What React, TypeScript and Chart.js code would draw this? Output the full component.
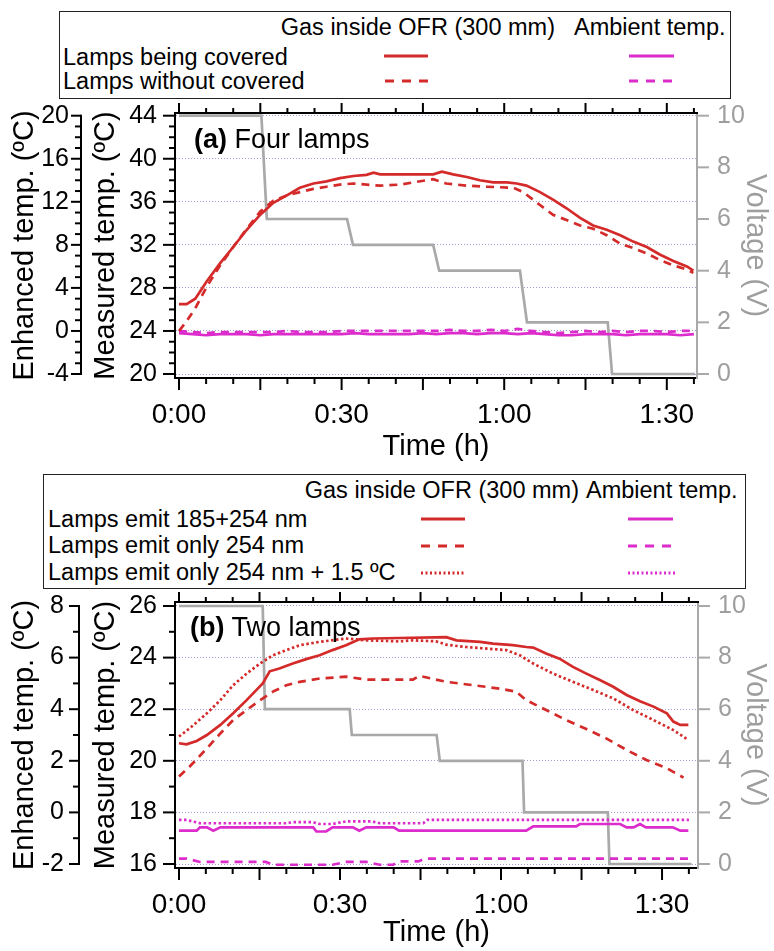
import React, { useEffect, useRef } from 'react';
import { Chart, registerables } from 'chart.js';

Chart.register(...registerables);

const FONT = "'Liberation Sans', Arial, Helvetica, sans-serif";
const RED = '#d42a2a';
const MAGENTA = '#dc2ccc';
const GRAY = '#a9a9a9';
const GRAY_TEXT = '#9e9e9e';
const GRID = '#9d9dd6';
const DASH = [8, 6];
const DOT = [2.5, 2.5];

// ---------- shared ticks ----------
const timeTickValues = [0, 30, 60, 90];
const timeTickLabels = ['0:00', '0:30', '1:00', '1:30'];
const voltageTicks = [0, 2, 4, 6, 8, 10];

// ---------- Panel (a) Four lamps ----------
const measuredTicksA = [20, 24, 28, 32, 36, 40, 44];
const enhancedTicksA = [-4, 0, 4, 8, 12, 16, 20];

const timeGasCoveredA = [0, 1.4, 3, 5.1, 7.6, 10, 12.5, 15, 17.4, 19.9, 22.3, 24.8, 27.2, 29.7, 32.2, 34.6, 35.9, 37.1, 40.8, 46.9, 48.5, 50.6, 53.1, 55.5, 58, 60.5, 62.3, 64.1, 66.6, 69, 71.5, 74, 76.4, 78.9, 81.4, 83.8, 86.3, 88.7, 91.2, 93.7, 94.9];
const gasCoveredA = [26.5, 26.5, 27.0, 28.6, 30.3, 31.8, 33.4, 34.8, 35.9, 36.6, 37.3, 37.7, 37.9, 38.2, 38.4, 38.5, 38.7, 38.55, 38.55, 38.55, 38.8, 38.55, 38.3, 38.0, 37.8, 37.8, 37.7, 37.5, 36.9, 36.2, 35.4, 34.5, 33.8, 33.4, 32.9, 32.3, 31.8, 31.1, 30.5, 30.0, 29.6];

const timeGasUncoveredA = [0, 1.4, 3, 5.1, 7.6, 10, 12.5, 15, 17.4, 19.9, 22.3, 24.8, 27.2, 29.7, 32.2, 34.6, 37.1, 40.8, 43.2, 46.9, 49.3, 53.1, 56.8, 61.7, 63.5, 66.6, 69, 71.5, 74, 76.4, 78.9, 81.4, 83.8, 86.3, 88.7, 91.2, 93.7, 94.9];
const gasUncoveredA = [24.0, 24.9, 26.1, 28.1, 30.1, 31.8, 33.5, 35.1, 36.1, 36.6, 36.9, 37.2, 37.4, 37.6, 37.7, 37.6, 37.5, 37.6, 37.8, 38.1, 37.7, 37.5, 37.4, 37.3, 36.9, 35.7, 34.8, 34.3, 33.8, 33.5, 32.9, 32.1, 31.7, 31.2, 30.6, 30.1, 29.7, 29.4];

const timeAmbientA = [0, 2.5, 5, 7.5, 10, 12.5, 15, 17.5, 20, 22.5, 25, 27.5, 30, 32.5, 35, 37.5, 40, 42.5, 45, 47.5, 50, 52.5, 55, 57.5, 60, 62.5, 65, 67.5, 70, 72.5, 75, 77.5, 80, 82.5, 85, 87.5, 90, 92.5, 95];
const ambientCoveredA = [23.8, 23.7, 23.6, 23.7, 23.7, 23.7, 23.6, 23.7, 23.7, 23.7, 23.7, 23.7, 23.7, 23.8, 23.7, 23.7, 23.7, 23.7, 23.8, 23.7, 23.8, 23.8, 23.7, 23.8, 23.8, 23.7, 23.8, 23.7, 23.6, 23.6, 23.7, 23.7, 23.7, 23.6, 23.7, 23.7, 23.7, 23.6, 23.7];
const ambientUncoveredA = [24.0, 23.9, 23.8, 23.9, 23.9, 23.9, 23.9, 23.9, 24.0, 23.9, 23.9, 23.9, 24.0, 24.0, 24.0, 24.0, 24.0, 24.0, 24.0, 24.0, 24.1, 24.0, 24.0, 24.1, 24.0, 24.2, 24.0, 23.9, 23.8, 23.9, 24.0, 23.9, 24.0, 23.9, 24.0, 24.0, 23.9, 24.0, 24.0];

const timeVoltageA = [0, 15.2, 16.2, 31.0, 32.1, 46.9, 48.0, 62.9, 64.2, 79.1, 79.9, 95.2];
const voltageA = [10, 10, 6, 6, 5, 5, 4, 4, 2, 2, 0, 0];

// ---------- Panel (b) Two lamps ----------
const measuredTicksB = [16, 18, 20, 22, 24, 26];
const enhancedTicksB = [-2, 0, 2, 4, 6, 8];

const timeGas185B = [0, 1.4, 3.3, 5.2, 7.7, 10.1, 12.6, 14.4, 15.6, 16.9, 18.7, 21.2, 23.7, 26.2, 28.6, 31.1, 33.6, 36.1, 41.1, 49.8, 51.7, 56.1, 58.5, 62.2, 64.7, 66, 68.4, 70.9, 73.4, 75.9, 78.4, 80.9, 83.4, 85.9, 88.4, 90.9, 92.1, 93.4, 94.9];
const gas185B = [20.68, 20.64, 20.77, 21.0, 21.39, 21.84, 22.35, 22.74, 23.0, 23.47, 23.58, 23.77, 23.94, 24.09, 24.29, 24.48, 24.71, 24.74, 24.76, 24.79, 24.67, 24.61, 24.54, 24.48, 24.41, 24.39, 24.16, 23.96, 23.64, 23.38, 23.13, 22.87, 22.55, 22.31, 22.1, 21.84, 21.52, 21.39, 21.39];

const timeGas254B = [0, 2, 5.2, 7.7, 10.1, 12.6, 15.1, 17.5, 20, 22.5, 26.2, 31.1, 34.9, 41.1, 43.6, 44.8, 49.8, 54.8, 59.7, 62.8, 64.7, 68.4, 72.1, 75.9, 79.6, 83.4, 87.1, 90.9, 94];
const gas254B = [19.39, 19.78, 20.48, 21.06, 21.58, 21.97, 22.35, 22.68, 22.93, 23.06, 23.19, 23.26, 23.15, 23.15, 23.15, 23.29, 23.06, 22.93, 22.8, 22.68, 22.35, 21.97, 21.58, 21.23, 20.87, 20.42, 20.03, 19.71, 19.35];

const timeGas254PlusB = [0, 2, 5.2, 7.7, 10.1, 12.6, 15.1, 17.5, 20, 22.5, 26.2, 31.1, 34.9, 41.1, 43.6, 47.9, 49.8, 53.5, 57.3, 61, 63.5, 66, 69.7, 73.4, 77.2, 80.9, 84.6, 88.4, 92.1, 94.9];
const gas254PlusB = [20.94, 21.26, 21.84, 22.35, 22.93, 23.38, 23.77, 24.09, 24.29, 24.48, 24.61, 24.74, 24.67, 24.63, 24.67, 24.63, 24.5, 24.41, 24.35, 24.29, 24.09, 23.77, 23.38, 23.06, 22.74, 22.42, 21.97, 21.58, 21.19, 20.81];

const timeAmbient185B = [0, 3.3, 3.9, 5.2, 6.4, 7.7, 25, 25.6, 27.4, 28.6, 32.4, 33.6, 34.9, 40, 41, 64.7, 66, 74, 74.7, 82.2, 83.4, 84.7, 85.9, 87, 92, 93.4, 94.9];
const ambient185B = [17.29, 17.29, 17.42, 17.42, 17.29, 17.42, 17.42, 17.26, 17.26, 17.42, 17.42, 17.29, 17.42, 17.42, 17.29, 17.29, 17.46, 17.46, 17.55, 17.55, 17.42, 17.42, 17.55, 17.42, 17.42, 17.29, 17.29];

const timeAmbient254B = [0, 1.4, 3.9, 16.2, 17.5, 28.6, 31.1, 34.9, 37.4, 39.9, 41, 44.6, 45.8, 95];
const ambient254B = [16.21, 16.21, 16.08, 16.08, 15.97, 15.97, 16.08, 16.08, 15.97, 15.97, 16.1, 16.1, 16.21, 16.21];

const timeAmbient254PlusB = [0, 1.4, 3.9, 19.9, 21.2, 24.9, 26.2, 28.6, 31.1, 36, 37.4, 45.5, 46.3, 95];
const ambient254PlusB = [17.71, 17.71, 17.58, 17.58, 17.62, 17.62, 17.55, 17.55, 17.65, 17.65, 17.58, 17.58, 17.71, 17.71];

const timeVoltageB = [0, 15.6, 16.0, 31.8, 32.2, 48.0, 48.6, 64.0, 64.3, 79.9, 80.2, 95.5];
const voltageB = [10, 10, 6, 6, 5, 5, 4, 4, 2, 2, 0, 0];

// ---------- legend texts ----------
const legendColumns = ['Gas inside OFR (300 mm)', 'Ambient temp.'];
const legendRowsA = ['Lamps being covered', 'Lamps without covered'];
const legendRowsB = ['Lamps emit 185+254 nm', 'Lamps emit only 254 nm', 'Lamps emit only 254 nm + 1.5 ºC'];
const panelLabelA = ['(a)', ' Four lamps'];
const panelLabelB = ['(b)', ' Two lamps'];

const pts = (t: number[], v: number[]) => t.map((x, i) => ({ x, y: v[i] }));

const axisDecor = {
  id: 'axisDecor',
  afterDraw(chart: any, _a: any, o: any) {
    const { ctx, chartArea: ca, scales } = chart;
    const sx = scales.x, sm = scales.y, se = scales.y2, sv = scales.yv;
    const seg = (x1: number, y1: number, x2: number, y2: number, c = '#000', w = 2) => {
      ctx.beginPath();
      ctx.strokeStyle = c;
      ctx.lineWidth = w;
      ctx.moveTo(x1, y1);
      ctx.lineTo(x2, y2);
      ctx.stroke();
    };
    ctx.save();
    ctx.setLineDash([]);
    ctx.lineCap = 'butt';
    seg(ca.left - 1, ca.top, ca.right + 1, ca.top);
    for (let t = 0; t <= o.xLast + 1e-9; t += o.xStep) {
      const px = sx.getPixelForValue(t);
      const major = Math.abs(t % o.xMajorStep) < 1e-9;
      seg(px, ca.bottom, px, ca.bottom + (major ? 12 : 6));
      seg(px, ca.top, px, ca.top - (major ? 10 : 5));
    }
    const mT: number[] = o.measuredTicks;
    for (let v = mT[0]; v <= mT[mT.length - 1] + 1e-9; v += 1) {
      const py = sm.getPixelForValue(v);
      const major = mT.includes(v);
      seg(ca.left - (major ? 12 : 6), py, ca.left, py);
    }
    const eT: number[] = o.enhancedTicks;
    const ex = se.right - 1;
    seg(ex, se.getPixelForValue(eT[eT.length - 1]) - 1, ex, se.getPixelForValue(eT[0]) + 1);
    for (let v = eT[0]; v <= eT[eT.length - 1] + 1e-9; v += 1) {
      const py = se.getPixelForValue(v);
      const major = eT.includes(v);
      seg(ex - (major ? 10 : 6), py, ex, py);
    }
    for (const v of o.voltageTicks) {
      const py = sv.getPixelForValue(v);
      seg(ca.right, py, ca.right + 12, py, GRAY);
    }
    ctx.restore();
  },
};

const zeroPad = (s: any) => {
  s.paddingLeft = 0;
  s.paddingRight = 0;
  s.paddingTop = 0;
  s.paddingBottom = 0;
};

type Spec = {
  xMin: number; xMax: number; mMin: number; mMax: number;
  enhOffset: number; vZeroM: number; mPerV: number;
  measuredTicks: number[]; enhancedTicks: number[];
  enhW: number; measW: number; voltW: number; xH: number; padTop: number;
  enhTickPad: number; measTitlePad: number; xTitlePad: number;
  datasets: any[];
};

function makeConfig(p: Spec): any {
  const tickFont = { family: FONT, size: 25 };
  const titleFont = { family: FONT, size: 29 };
  return {
    type: 'line',
    data: { datasets: p.datasets },
    plugins: [axisDecor],
    options: {
      animation: false,
      responsive: false,
      events: [],
      layout: { padding: { top: p.padTop, left: 0, right: 0, bottom: 0 }, autoPadding: false },
      plugins: {
        legend: { display: false },
        tooltip: { enabled: false },
        axisDecor: {
          xStep: 5, xMajorStep: 15, xLast: 95,
          measuredTicks: p.measuredTicks, enhancedTicks: p.enhancedTicks, voltageTicks,
        },
      },
      elements: { point: { radius: 0 }, line: { tension: 0 } },
      scales: {
        x: {
          type: 'linear', position: 'bottom', min: p.xMin, max: p.xMax,
          afterBuildTicks: (s: any) => { s.ticks = timeTickValues.map((v) => ({ value: v })); },
          afterFit: (s: any) => { s.height = p.xH; zeroPad(s); },
          ticks: {
            padding: 20, maxRotation: 0, minRotation: 0, autoSkip: false, color: '#000',
            font: { family: FONT, size: 28 },
            callback: (v: number) => timeTickLabels[timeTickValues.indexOf(v)] ?? '',
          },
          grid: { display: false, drawTicks: false },
          border: { display: true, color: '#000', width: 2 },
          title: { display: true, text: 'Time (h)', color: '#000', font: { family: FONT, size: 29 }, padding: { top: 0, bottom: p.xTitlePad } },
        },
        y: {
          type: 'linear', position: 'left', weight: 1, min: p.mMin, max: p.mMax,
          afterBuildTicks: (s: any) => { s.ticks = p.measuredTicks.map((v) => ({ value: v })); },
          afterFit: (s: any) => { s.width = p.measW; zeroPad(s); },
          ticks: { padding: 18, autoSkip: false, color: '#000', font: tickFont, callback: (v: number) => String(v) },
          grid: { display: true, drawTicks: false, drawOnChartArea: true, color: GRID, lineWidth: 1 },
          border: { display: true, color: '#000', width: 2, dash: [1, 2] },
          title: { display: true, text: 'Measured temp. (ºC)', color: '#000', font: titleFont, padding: { top: p.measTitlePad, bottom: 0 } },
        },
        y2: {
          type: 'linear', position: 'left', weight: 2,
          min: p.mMin - p.enhOffset, max: p.mMax - p.enhOffset,
          afterBuildTicks: (s: any) => { s.ticks = p.enhancedTicks.map((v) => ({ value: v })); },
          afterFit: (s: any) => { s.width = p.enhW; zeroPad(s); },
          ticks: { padding: p.enhTickPad, autoSkip: false, color: '#000', font: tickFont, callback: (v: number) => String(v) },
          grid: { display: false, drawTicks: false, drawOnChartArea: false },
          border: { display: false },
          title: { display: true, text: 'Enhanced temp. (ºC)', color: '#000', font: titleFont, padding: { top: 7.5, bottom: 0 } },
        },
        yv: {
          type: 'linear', position: 'right', weight: 1,
          min: (p.mMin - p.vZeroM) / p.mPerV, max: (p.mMax - p.vZeroM) / p.mPerV,
          afterBuildTicks: (s: any) => { s.ticks = voltageTicks.map((v) => ({ value: v })); },
          afterFit: (s: any) => { s.width = p.voltW; zeroPad(s); },
          ticks: { padding: 20, autoSkip: false, color: GRAY_TEXT, font: tickFont, callback: (v: number) => String(v) },
          grid: { display: false, drawTicks: false, drawOnChartArea: false },
          border: { display: true, color: GRAY, width: 2 },
          title: { display: true, text: 'Voltage (V)', color: GRAY_TEXT, font: titleFont, padding: { top: 1.6, bottom: 0 } },
        },
      },
    },
  };
}

const line = (label: string, t: number[], v: number[], color: string, dash: number[], axis = 'y', order = 1) => ({
  label, data: pts(t, v), yAxisID: axis, xAxisID: 'x', borderColor: color, backgroundColor: color,
  borderWidth: 2.7, borderDash: dash, pointRadius: 0, fill: false, tension: 0, order, borderCapStyle: 'butt',
});

const specA: Spec = {
  xMin: -0.74, xMax: 95.57, mMin: 19.63, mMax: 44.25,
  enhOffset: 24, vZeroM: 20, mPerV: 2.4,
  measuredTicks: measuredTicksA, enhancedTicks: enhancedTicksA,
  enhW: 82, measW: 93, voltW: 77, xH: 92, padTop: 13,
  enhTickPad: 13, measTitlePad: 6.6, xTitlePad: 6,
  datasets: [
    line('Voltage', timeVoltageA, voltageA, GRAY, [], 'yv', 5),
    line('Ambient, without covered', timeAmbientA, ambientUncoveredA, MAGENTA, DASH, 'y', 3),
    line('Ambient, covered', timeAmbientA, ambientCoveredA, MAGENTA, [], 'y', 3),
    line('Gas, without covered', timeGasUncoveredA, gasUncoveredA, RED, DASH, 'y', 2),
    line('Gas, covered', timeGasCoveredA, gasCoveredA, RED, [], 'y', 1),
  ],
};

const specB: Spec = {
  xMin: -0.745, xMax: 96.7, mMin: 15.845, mMax: 26.155,
  enhOffset: 18, vZeroM: 16, mPerV: 1,
  measuredTicks: measuredTicksB, enhancedTicks: enhancedTicksB,
  enhW: 80, measW: 95, voltW: 76, xH: 83, padTop: 12,
  enhTickPad: 16, measTitlePad: 8.6, xTitlePad: 1,
  datasets: [
    line('Voltage', timeVoltageB, voltageB, GRAY, [], 'yv', 5),
    line('Ambient, 254 nm', timeAmbient254B, ambient254B, MAGENTA, DASH, 'y', 3),
    line('Ambient, 254 nm + 1.5', timeAmbient254PlusB, ambient254PlusB, MAGENTA, DOT, 'y', 3),
    line('Ambient, 185+254 nm', timeAmbient185B, ambient185B, MAGENTA, [], 'y', 3),
    line('Gas, 254 nm', timeGas254B, gas254B, RED, DASH, 'y', 2),
    line('Gas, 254 nm + 1.5', timeGas254PlusB, gas254PlusB, RED, DOT, 'y', 2),
    line('Gas, 185+254 nm', timeGas185B, gas185B, RED, [], 'y', 1),
  ],
};

function Panel({ top, height, spec }: { top: number; height: number; spec: Spec }) {
  const ref = useRef<HTMLCanvasElement>(null);
  useEffect(() => {
    const chart = new Chart(ref.current as HTMLCanvasElement, makeConfig(spec));
    return () => chart.destroy();
  }, []);
  return (
    <div style={{ position: 'absolute', left: 0, top, width: 774, height }}>
      <canvas ref={ref} width={774} height={height} style={{ display: 'block', width: 774, height }} />
    </div>
  );
}

const txt = (extra: any): any => ({
  position: 'absolute', fontFamily: FONT, fontSize: 23.5, lineHeight: '24px', whiteSpace: 'nowrap', color: '#000', ...extra,
});

function SvgLine({ x1, x2, y, color, dash }: { x1: number; x2: number; y: number; color: string; dash?: string }) {
  return <line x1={x1} x2={x2} y1={y} y2={y} stroke={color} strokeWidth={3} strokeDasharray={dash} />;
}

export default function App() {
  return (
    <div style={{ position: 'absolute', left: 0, top: 0, width: 774, height: 951, background: '#fff', overflow: 'hidden' }}>
      <Panel top={100} height={370} spec={specA} />
      <Panel top={590} height={361} spec={specB} />

      {/* Legend (a) */}
      <div style={{ position: 'absolute', left: 59, top: 11, width: 672, height: 88, border: '1.5px solid #222', boxSizing: 'border-box' }} />
      <span style={txt({ right: 774 - 555, top: 14.7 })}>{legendColumns[0]}</span>
      <span style={txt({ left: 574, top: 14.7 })}>{legendColumns[1]}</span>
      <span style={txt({ left: 63, top: 44.7 })}>{legendRowsA[0]}</span>
      <span style={txt({ left: 63, top: 68.7 })}>{legendRowsA[1]}</span>

      {/* Legend (b) */}
      <div style={{ position: 'absolute', left: 43, top: 474, width: 703, height: 115, border: '1.5px solid #222', boxSizing: 'border-box' }} />
      <span style={txt({ right: 774 - 579, top: 477.7 })}>{legendColumns[0]}</span>
      <span style={txt({ left: 586, top: 477.7 })}>{legendColumns[1]}</span>
      <span style={txt({ left: 48, top: 506.7 })}>{legendRowsB[0]}</span>
      <span style={txt({ left: 48, top: 532.7 })}>{legendRowsB[1]}</span>
      <span style={txt({ left: 48, top: 559.7 })}>{legendRowsB[2]}</span>

      <svg width={774} height={951} style={{ position: 'absolute', left: 0, top: 0, pointerEvents: 'none' }}>
        <SvgLine x1={384} x2={428} y={56} color={RED} />
        <SvgLine x1={385} x2={431} y={81} color={RED} dash="9 8" />
        <SvgLine x1={629} x2={674} y={56} color={MAGENTA} />
        <SvgLine x1={629} x2={675} y={81} color={MAGENTA} dash="9 8" />

        <SvgLine x1={421} x2={465} y={519} color={RED} />
        <SvgLine x1={421} x2={467} y={546} color={RED} dash="9 8" />
        <SvgLine x1={421} x2={466} y={573} color={RED} dash="2 2.5" />
        <SvgLine x1={628} x2={673} y={519} color={MAGENTA} />
        <SvgLine x1={628} x2={675} y={546} color={MAGENTA} dash="9 8" />
        <SvgLine x1={628} x2={677} y={573} color={MAGENTA} dash="2 2.5" />
      </svg>

      <span style={txt({ left: 194, top: 125.5, fontSize: 27, lineHeight: '27px' })}>
        <b>{panelLabelA[0]}</b>{panelLabelA[1]}
      </span>
      <span style={txt({ left: 190, top: 613.8, fontSize: 27, lineHeight: '27px' })}>
        <b>{panelLabelB[0]}</b>{panelLabelB[1]}
      </span>
    </div>
  );
}
